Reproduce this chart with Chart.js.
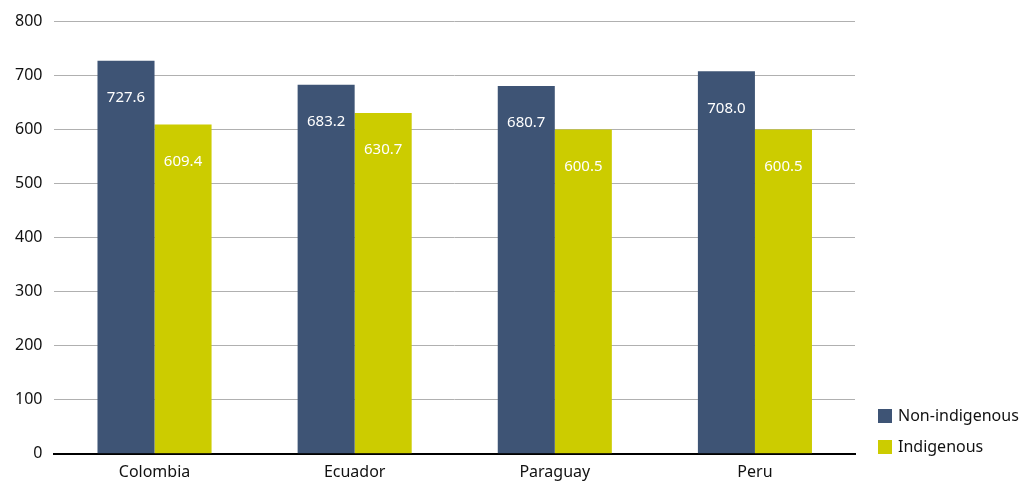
<!DOCTYPE html>
<html><head><meta charset="utf-8">
<script src="https://cdn.jsdelivr.net/npm/chart.js@4/dist/chart.umd.min.js"></script>
<style>html,body{margin:0;padding:0;background:#fff}#wrap{width:1022px;height:484px;position:relative}</style>
</head><body><div id="wrap"><canvas id="c"></canvas></div>
<script>
const categories = ["Colombia", "Ecuador", "Paraguay", "Peru"];
const nonIndigenous = [727.6, 683.2, 680.7, 708.0];
const indigenous = [609.4, 630.7, 600.5, 600.5];
const seriesNames = ["Non-indigenous", "Indigenous"];
const seriesColors = ['#3e5475', '#cccc00'];
const yTicks = [0, 100, 200, 300, 400, 500, 600, 700, 800];

const FONT = "'Noto Sans', sans-serif";

const labelPlugin = {
  id: 'inLabels',
  afterDatasetsDraw(chart) {
    const ctx = chart.ctx;
    ctx.save();
    ctx.fillStyle = '#ffffff';
    ctx.font = "15px " + FONT;
    ctx.textAlign = 'center';
    ctx.textBaseline = 'middle';
    chart.data.datasets.forEach((ds, i) => {
      chart.getDatasetMeta(i).data.forEach((bar, j) => {
        ctx.fillText(ds.data[j].toFixed(1), bar.x, bar.y + 37);
      });
    });
    ctx.restore();
  }
};

const legendPlugin = {
  id: 'customLegend',
  afterDraw(chart) {
    const ctx = chart.ctx;
    ctx.save();
    ctx.font = "16px " + FONT;
    ctx.textBaseline = 'middle';
    ctx.textAlign = 'left';
    chart.data.datasets.forEach((ds, i) => {
      const cy = 416 + i * 31;
      ctx.fillStyle = ds.backgroundColor;
      ctx.fillRect(878, cy - 7, 14, 14);
      ctx.fillStyle = '#111';
      ctx.fillText(ds.label, 898, cy);
    });
    ctx.restore();
  }
};

new Chart(document.getElementById('c'), {
  type: 'bar',
  data: {
    labels: categories,
    datasets: [
      { label: seriesNames[0], data: nonIndigenous, backgroundColor: seriesColors[0] },
      { label: seriesNames[1], data: indigenous, backgroundColor: seriesColors[1] }
    ]
  },
  options: {
    responsive: true,
    maintainAspectRatio: false,
    animation: false,
    layout: { padding: { top: 12, right: 167, bottom: 0, left: 3 } },
    datasets: { bar: { categoryPercentage: 0.57, barPercentage: 1.0 } },
    plugins: {
      legend: { display: false },
      tooltip: { enabled: false }
    },
    scales: {
      x: {
        grid: { display: false },
        border: { color: '#000', width: 2 },
        ticks: { color: '#111', font: { size: 16, family: FONT }, padding: 1.5 }
      },
      y: {
        min: 0, max: 800,
        afterBuildTicks(axis) { axis.ticks = yTicks.map(v => ({ value: v })); },
        grid: { color: '#b0b0b0', lineWidth: 1, drawTicks: false },
        border: { display: false },
        ticks: { color: '#111', font: { size: 16, family: FONT }, padding: 12 }
      }
    }
  },
  plugins: [labelPlugin, legendPlugin]
});
</script></body></html>
